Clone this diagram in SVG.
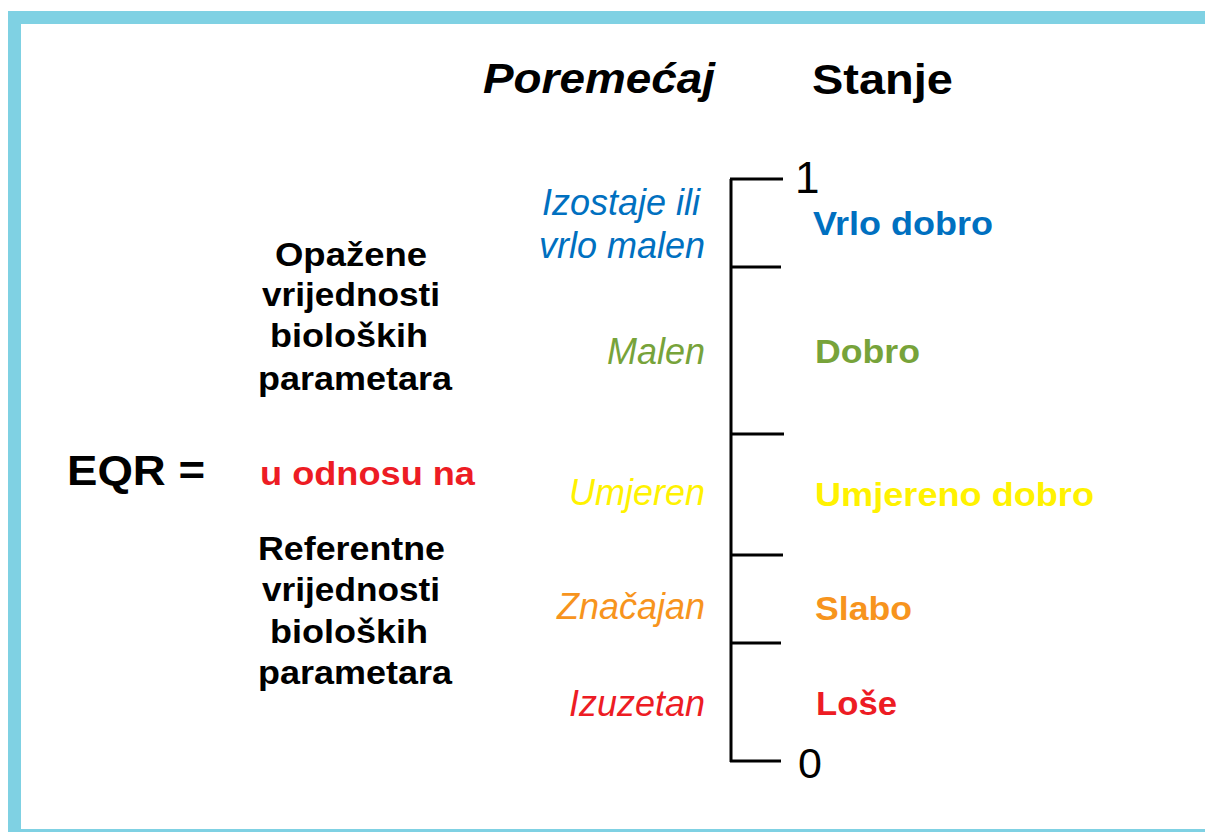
<svg xmlns="http://www.w3.org/2000/svg" width="1205" height="832" viewBox="0 0 1205 832">
<style>
.b{font-family:"Liberation Sans",Arial,sans-serif;font-weight:bold}
.i{font-family:"Liberation Sans",Arial,sans-serif;font-style:italic}
.n{font-family:"Liberation Sans",Arial,sans-serif}
.frame{fill:#7FD1E3}
.ax{stroke:#000;stroke-width:3;fill:none}
</style>
<rect width="1205" height="832" fill="#fff"/>
<g id="frame">
<rect class="frame" x="8" y="11" width="1197" height="13"/>
<rect class="frame" x="8" y="11" width="13" height="821"/>
<rect class="frame" x="8" y="829" width="1197" height="3"/>
</g>
<g id="headings">
<text class="b" x="483" y="93" font-size="42" font-style="italic" textLength="232" lengthAdjust="spacingAndGlyphs">Poremećaj</text>
<text class="b" x="812" y="94" font-size="42" textLength="141" lengthAdjust="spacingAndGlyphs">Stanje</text>
</g>
<g id="formula">
<text class="b" x="67" y="485" font-size="42" textLength="138" lengthAdjust="spacingAndGlyphs">EQR =</text>
<g class="b" font-size="33" fill="#000">
<text x="275" y="266" textLength="152" lengthAdjust="spacingAndGlyphs">Opažene</text>
<text x="262" y="306" textLength="178" lengthAdjust="spacingAndGlyphs">vrijednosti</text>
<text x="270" y="347" textLength="158" lengthAdjust="spacingAndGlyphs">bioloških</text>
<text x="258" y="390" textLength="194" lengthAdjust="spacingAndGlyphs">parametara</text>
<text x="260" y="485" fill="#ED1C24" textLength="215" lengthAdjust="spacingAndGlyphs">u odnosu na</text>
<text x="258" y="560" textLength="187" lengthAdjust="spacingAndGlyphs">Referentne</text>
<text x="262" y="601" textLength="178" lengthAdjust="spacingAndGlyphs">vrijednosti</text>
<text x="270" y="643" textLength="158" lengthAdjust="spacingAndGlyphs">bioloških</text>
<text x="258" y="684" textLength="194" lengthAdjust="spacingAndGlyphs">parametara</text>
</g>
</g>
<g id="scale">
<path class="ax" d="M731 179V762M730 179H783M730 267H781M730 434H784M730 555H783M730 643H781M730 761H781"/>
<text class="n" x="795" y="193" font-size="44">1</text>
<text class="n" x="798" y="778" font-size="43">0</text>
</g>
<g id="disturbance" class="i" font-size="36" text-anchor="end">
<text x="700" y="215" fill="#0070C0">Izostaje ili</text>
<text x="705" y="258" fill="#0070C0">vrlo malen</text>
<text x="705" y="364" fill="#77A33A">Malen</text>
<text x="705" y="505" fill="#FFF200">Umjeren</text>
<text x="705" y="619" fill="#F7941D">Značajan</text>
<text x="705" y="716" fill="#ED1C24">Izuzetan</text>
</g>
<g id="status" class="b" font-size="34">
<text x="813" y="235" fill="#0070C0" textLength="180" lengthAdjust="spacingAndGlyphs">Vrlo dobro</text>
<text x="815" y="363" fill="#77A33A" textLength="105" lengthAdjust="spacingAndGlyphs">Dobro</text>
<text x="815" y="506" fill="#FFF200" textLength="279" lengthAdjust="spacingAndGlyphs">Umjereno dobro</text>
<text x="815" y="620" fill="#F7941D" textLength="97" lengthAdjust="spacingAndGlyphs">Slabo</text>
<text x="816" y="715" fill="#ED1C24" textLength="81" lengthAdjust="spacingAndGlyphs">Loše</text>
</g>
</svg>
